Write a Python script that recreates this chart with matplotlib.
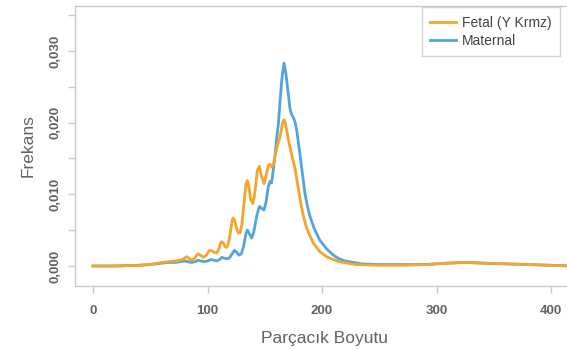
import matplotlib
matplotlib.use("Agg")
import matplotlib.pyplot as plt
from matplotlib.ticker import FixedLocator, FuncFormatter

# values
fetal_x = [0, 20, 40, 50, 60, 66, 72, 78, 80, 81.8, 83.5, 86, 88.5, 90.5, 92, 93.8,
           96.4, 99, 100.8, 102, 103.8, 106, 108, 110, 111.3, 112.4, 113.8, 115.5,
           116.8, 118.5, 120.5, 121.6, 122.5, 123.6, 125.5, 127, 128.4, 130, 132,
           133.6, 134.8, 136, 137.5, 139.5, 141.2, 143.5, 145.3, 147, 149.3, 151,
           153, 154.6, 156, 157.5, 160.4, 163.3, 165.5, 166.8, 168, 170.6, 173.5,
           176.4, 179.3, 181.5, 183.7, 186, 188, 192.4, 198, 204, 210, 215, 222,
           230, 250, 270, 290, 310, 325, 340, 360, 380, 400, 420]
fetal_y = [0.0, 0.0, 0.0001, 0.0002, 0.0005, 0.0006, 0.0007, 0.0009, 0.0011, 0.0013,
           0.0011, 0.0008, 0.0010, 0.0015, 0.0017, 0.0015, 0.0012, 0.0015, 0.0020,
           0.0022, 0.0021, 0.0019, 0.0018, 0.0024, 0.0032, 0.0034, 0.0032, 0.0027,
           0.0026, 0.0033, 0.0053, 0.0064, 0.0067, 0.0064, 0.0052, 0.0046, 0.0046,
           0.0058, 0.0090, 0.0114, 0.0119, 0.0112, 0.0094, 0.0087, 0.0100, 0.0133,
           0.0139, 0.0126, 0.0115, 0.0125, 0.0140, 0.0142, 0.0138, 0.0141, 0.0164,
           0.0180, 0.0200, 0.0204, 0.0199, 0.0176, 0.0155, 0.0136, 0.0108, 0.0087,
           0.0070, 0.0056, 0.0047, 0.0032, 0.0020, 0.0013, 0.0009, 0.0006, 0.0004,
           0.0002, 0.0001, 0.0001, 0.0002, 0.0004, 0.0005, 0.0004, 0.0003, 0.0002,
           0.0001, 0.0]

maternal_x = [0, 20, 40, 50, 60, 66, 72, 80, 83, 86, 89, 92, 94.5, 97, 100, 103,
              105.5, 108, 110.5, 112.4, 114.5, 117, 119, 121.5, 123.5, 125.5, 127.5,
              129.5, 131.5, 133.5, 134.8, 136.5, 138.6, 140.5, 143, 145.3, 147,
              149.3, 151, 153, 154.6, 156, 157.5, 159, 160.4, 162, 163.3, 165, 166.8,
              168.5, 170.6, 172, 173.5, 175, 176.4, 178, 179.3, 180.8, 182.3, 185,
              187, 189.5, 193, 198, 204, 210, 215, 220, 235, 250, 270, 290, 310, 325,
              340, 360, 380, 400, 420]
maternal_y = [0.0, 0.0, 0.0001, 0.0002, 0.0004, 0.0005, 0.0005, 0.0007, 0.0006,
              0.0005, 0.0006, 0.0008, 0.0007, 0.0006, 0.0007, 0.0009, 0.0008, 0.0007,
              0.0009, 0.0012, 0.0011, 0.0010, 0.0011, 0.0017, 0.0022, 0.0019, 0.0015,
              0.0017, 0.0027, 0.0045, 0.0050, 0.0045, 0.0039, 0.0048, 0.0070, 0.0083,
              0.0081, 0.0078, 0.0088, 0.0110, 0.0118, 0.0116, 0.0135, 0.0155, 0.0178,
              0.0200, 0.0229, 0.0262, 0.0283, 0.0268, 0.0239, 0.0220, 0.0211, 0.0207,
              0.0201, 0.0188, 0.0173, 0.0155, 0.0136, 0.0102, 0.0085, 0.0069, 0.0053,
              0.0036, 0.0024, 0.0015, 0.0010, 0.0007, 0.0003, 0.0002, 0.0002, 0.0002,
              0.0004, 0.0005, 0.0004, 0.0003, 0.0002, 0.0001, 0.0]

series_labels = ["Fetal (Y Krmz)", "Maternal"]
x_ticks = [0, 100, 200, 300, 400]
y_ticks = [0.0, 0.01, 0.02, 0.03]
y_minor = [0.005, 0.015, 0.025, 0.035]

orange = "#F5A52A"
blue = "#52A4DF"
grey_frame = "#c8c8c8"
grey_text = "#626262"

plt.rcParams['font.family'] = ['Liberation Sans', 'DejaVu Sans']

fig = plt.figure(figsize=(5.67, 3.49), dpi=100)
ax = fig.add_axes([0.1323, 0.1805, 0.88, 0.8023])

ax.plot(fetal_x, fetal_y, color=orange, lw=2.0, label=series_labels[0], zorder=3,
        solid_joinstyle='round')
ax.plot(maternal_x, maternal_y, color=blue, lw=2.0, label=series_labels[1], zorder=2,
        solid_joinstyle='round')

ax.set_xlim(-15.7, 420)
ax.set_ylim(-0.00279, 0.03626)

ax.xaxis.set_major_locator(FixedLocator(x_ticks))
ax.yaxis.set_major_locator(FixedLocator(y_ticks))
ax.yaxis.set_minor_locator(FixedLocator(y_minor))
ax.yaxis.set_major_formatter(FuncFormatter(lambda v, p: f"{v:.3f}".replace(".", ",")))

for s in ax.spines.values():
    s.set_color(grey_frame)
    s.set_linewidth(1.0)

ax.tick_params(axis='both', which='both', direction='out', color=grey_frame,
               length=5, width=1.0)
ax.tick_params(axis='x', labelsize=9.5, labelcolor=grey_text, pad=9)
ax.tick_params(axis='y', labelsize=9.5, labelcolor=grey_text, pad=5)
for lab in ax.get_xticklabels() + ax.get_yticklabels():
    lab.set_fontweight('bold')
for lab in ax.get_yticklabels():
    lab.set_rotation(90)
    lab.set_va('center')

ax.set_xlabel("Parçacık Boyutu", fontsize=12.5, color=grey_text, labelpad=10)
ax.set_ylabel("Frekans", fontsize=12.5, color=grey_text, labelpad=10)

leg = ax.legend(loc='upper left', bbox_to_anchor=(421.7 / 567, 1 - 7.3 / 349),
                bbox_transform=fig.transFigure, fontsize=10, frameon=True,
                fancybox=False, handlelength=1.9, handletextpad=0.4,
                labelspacing=0.3, borderpad=0.6, borderaxespad=0)
leg.get_frame().set_edgecolor(grey_frame)
leg.get_frame().set_linewidth(1.0)
for t in leg.get_texts():
    t.set_color("#444444")

fig.savefig("out.png", dpi=100)
